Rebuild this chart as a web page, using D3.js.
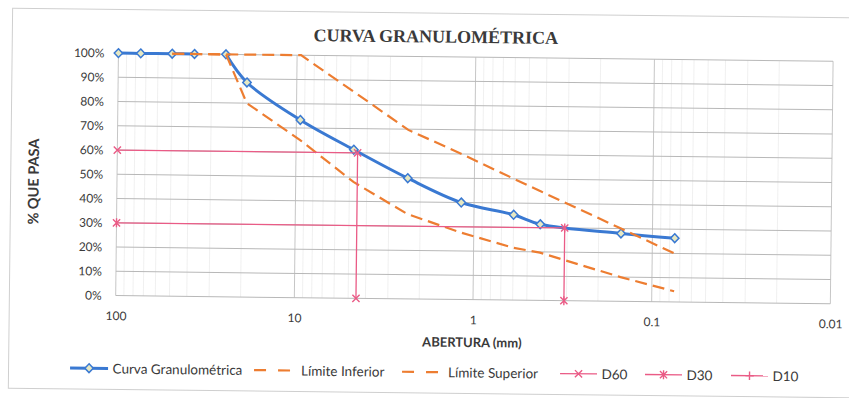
<!DOCTYPE html>
<html>
<head>
<meta charset="utf-8">
<script src="https://cdn.jsdelivr.net/npm/d3@7"></script>
<style>
  body { margin: 0; background: #fff; }
  svg { display: block; }
  text { font-family: Lato, "Open Sans", sans-serif; fill: #3a3a3a; }
</style>
</head>
<body>
<svg id="chart" width="849" height="398"></svg>
<script>
// Sieve openings (mm) and percentage passing for the sample; the blank entry breaks the line.
const sieveSizes   = [100, 75, 50, 37.5, 31.5, 25, 19, 9.5, 4.75, 2.36, 1.18, 0.6, 0.425, 0.15, 0.075];
const curvePassing = [100, 100, 100, 100, null, 100, 88.5, 73.3, 61.3, 49.8, 40.0, 35.2, 31.4, 28.0, 26.3];

// Specification band
const limitSizes = [50, 37.5, 25, 19, 9.5, 4.75, 2.36, 1.18, 0.6, 0.425, 0.15, 0.075];
const lowerLimit = [100, 100, 100, 80, 65, 48, 35, 27.6, 21.6, 19.7, 10, 4.4];
const upperLimit = [100, 100, 100, 100, 100, 85, 69.7, 60, 50, 45, 30, 20];

// Characteristic diameters (mm)
const d60 = 4.52;
const d30 = 0.31;

const xTickValues = [100, 10, 1, 0.1, 0.01];
const yTickValues = [0, 10, 20, 30, 40, 50, 60, 70, 80, 90, 100];

const titleText = "CURVA GRANULOMÉTRICA";
const xTitle = "ABERTURA (mm)";
const yTitle = "% QUE PASA";
const legendLabels = ["Curva Granulométrica", "Límite Inferior", "Límite Superior", "D60", "D30", "D10"];

const BLUE = "#3a79d2", ORANGE = "#ed7d31", PINK = "#ea5b86";

const svg = d3.select("#chart");
const root = svg.append("g").attr("transform", "rotate(0.65 424 199)");

// Chart frame
root.append("rect")
  .attr("x", 10.5).attr("y", 13).attr("width", 870).attr("height", 380)
  .attr("fill", "none").attr("stroke", "#cfcfcf").attr("stroke-width", 1);

const x = d3.scaleLog().domain([100, 0.01]).range([116.8, 831.5]);
const y = d3.scaleLinear().domain([0, 100]).range([299.1, 56.6]);

// Grid: minor decades first, then majors, then horizontal lines
const minor = [];
[10, 1, 0.1, 0.01].forEach(base => { for (let k = 2; k <= 9; k++) minor.push(base * k); });
const grid = root.append("g");
grid.selectAll("line.minor").data(minor).join("line")
  .attr("x1", d => x(d)).attr("x2", d => x(d))
  .attr("y1", y(0)).attr("y2", y(100))
  .attr("stroke", "#ececec").attr("stroke-width", 0.8);
grid.selectAll("line.major").data(xTickValues).join("line")
  .attr("x1", d => x(d)).attr("x2", d => x(d))
  .attr("y1", y(0)).attr("y2", y(100))
  .attr("stroke", "#c6c6c6").attr("stroke-width", 1);
grid.selectAll("line.h").data(yTickValues).join("line")
  .attr("x1", x(100)).attr("x2", x(0.01))
  .attr("y1", d => y(d)).attr("y2", d => y(d))
  .attr("stroke", "#b8b8b8").attr("stroke-width", 1);

// Axes
const yAxis = root.append("g").attr("transform", `translate(${x(100)},0)`)
  .call(d3.axisLeft(y).tickValues(yTickValues).tickFormat(d => d + "%").tickSize(0).tickPadding(14));
const xAxis = root.append("g").attr("transform", `translate(0,${y(0)})`)
  .call(d3.axisBottom(x).tickValues(xTickValues).tickFormat(d => String(d)).tickSize(0).tickPadding(16));
[yAxis, xAxis].forEach(a => {
  a.select(".domain").remove();
  a.selectAll("text").style("font-family", "Lato, sans-serif").style("font-size", "12px").attr("fill", "#3a3a3a");
});

// Titles
root.append("text").attr("x", 434).attr("y", 42.4).attr("text-anchor", "middle")
  .style("font-family", "'Liberation Serif', serif").style("font-weight", "bold").style("font-size", "18px")
  .attr("fill", "#383838").text(titleText);
root.append("text").attr("x", 473.5).attr("y", 346.5).attr("text-anchor", "middle")
  .style("font-weight", "bold").style("font-size", "13px").text(xTitle);
root.append("text").attr("transform", "translate(33,186) rotate(-90)")
  .attr("text-anchor", "middle").attr("dominant-baseline", "central")
  .style("font-weight", "bold").style("font-size", "14.5px").text(yTitle);

// Series
const curveData = sieveSizes.map((s, i) => ({ s, p: curvePassing[i] }));
const lowerData = limitSizes.map((s, i) => ({ s, p: lowerLimit[i] }));
const upperData = limitSizes.map((s, i) => ({ s, p: upperLimit[i] }));
const d60Data = [{ s: 100, p: 60 }, { s: d60, p: 60 }, { s: d60, p: 0 }];
const d30Data = [{ s: 100, p: 30 }, { s: d30, p: 30 }, { s: d30, p: 0 }];

const smooth = d3.line().defined(d => d.p != null).x(d => x(d.s)).y(d => y(d.p)).curve(d3.curveCatmullRom.alpha(0.5));
const straight = d3.line().x(d => x(d.s)).y(d => y(d.p));

const diamond = "M0,-4.4L4.2,0L0,4.4L-4.2,0Z";
const cross = "M-3.6,-3.6L3.6,3.6M-3.6,3.6L3.6,-3.6";
const star = "M-3.6,-3.6L3.6,3.6M-3.6,3.6L3.6,-3.6M0,-4.5V4.5";
const plus = "M-4.2,0H4.2M0,-4.2V4.2";

root.append("path").datum(curveData).attr("d", smooth)
  .attr("fill", "none").attr("stroke", BLUE).attr("stroke-width", 3).attr("stroke-linejoin", "round");
root.append("g").selectAll("path").data(curveData.filter(d => d.p != null)).join("path")
  .attr("transform", d => `translate(${x(d.s)},${y(d.p)})`).attr("d", diamond)
  .attr("fill", "#e6e8c3").attr("stroke", BLUE).attr("stroke-width", 1.5);

[lowerData, upperData].forEach(data => {
  root.append("path").datum(data).attr("d", straight)
    .attr("fill", "none").attr("stroke", ORANGE).attr("stroke-width", 2.2)
    .attr("stroke-dasharray", "12,6");
});

[[d60Data, cross], [d30Data, star]].forEach(([data, mark]) => {
  root.append("path").datum(data).attr("d", straight)
    .attr("fill", "none").attr("stroke", PINK).attr("stroke-width", 1.3);
  root.append("g").selectAll("path").data(data).join("path")
    .attr("transform", d => `translate(${x(d.s)},${y(d.p)})`).attr("d", mark)
    .attr("fill", "none").attr("stroke", PINK).attr("stroke-width", 1.4);
});

// Legend
const legendY = 372;
const legendItems = [
  { label: legendLabels[0], x0: 72, x1: 110, tx: 114.5, color: BLUE, width: 3, dash: null, mark: diamond, fill: "#e6e8c3" },
  { label: legendLabels[1], x0: 256, x1: 296, tx: 303, color: ORANGE, width: 2.2, dash: "12,12", mark: null },
  { label: legendLabels[2], x0: 404, x1: 444, tx: 450, color: ORANGE, width: 2.2, dash: "12,12", mark: null },
  { label: legendLabels[3], x0: 562, x1: 599, tx: 603.5, color: PINK, width: 1.3, dash: null, mark: cross },
  { label: legendLabels[4], x0: 647, x1: 684, tx: 688.5, color: PINK, width: 1.3, dash: null, mark: star },
  { label: legendLabels[5], x0: 733, x1: 770, tx: 774.5, color: PINK, width: 1.3, dash: null, mark: plus }
];
const lg = root.append("g").selectAll("g").data(legendItems).join("g");
lg.append("line")
  .attr("x1", d => d.x0).attr("x2", d => d.x1).attr("y1", legendY).attr("y2", legendY)
  .attr("stroke", d => d.color).attr("stroke-width", d => d.width)
  .attr("stroke-dasharray", d => d.dash);
lg.filter(d => d.mark).append("path")
  .attr("transform", d => `translate(${(d.x0 + d.x1) / 2},${legendY})`)
  .attr("d", d => d.mark)
  .attr("fill", d => d.fill || "none").attr("stroke", d => d.color)
  .attr("stroke-width", d => d.fill ? 1.5 : 1.4);
lg.append("text")
  .attr("x", d => d.tx).attr("y", legendY).attr("dominant-baseline", "central")
  .style("font-size", "13.5px").text(d => d.label);
</script>
</body>
</html>
